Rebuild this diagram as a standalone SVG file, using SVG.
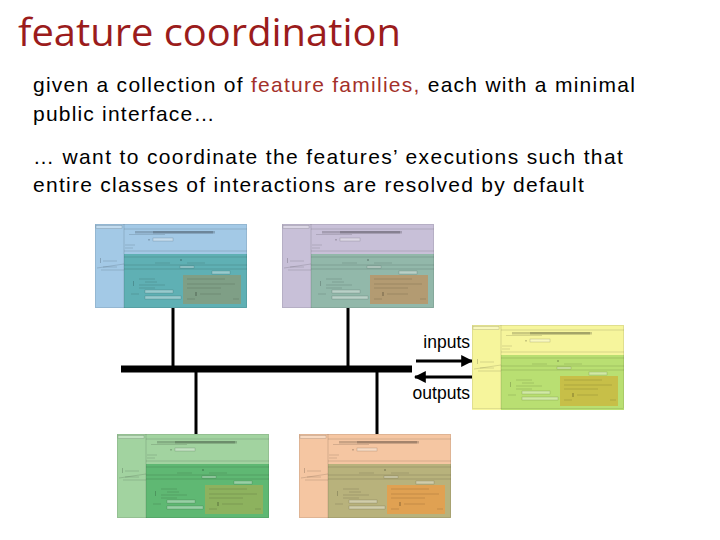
<svg xmlns="http://www.w3.org/2000/svg" xmlns:xlink="http://www.w3.org/1999/xlink" width="720" height="540" viewBox="0 0 720 540">
<style>
.title{font-family:"Open Sans","Noto Sans","Liberation Sans",sans-serif;font-size:38px;fill:#9b1c1c}
.body{font-family:"Liberation Sans",Arial,sans-serif;font-size:21px;letter-spacing:1.2px;fill:#000}
.hl{fill:#a3302a}
.lbl{font-family:"Liberation Sans",Arial,sans-serif;font-size:17.5px;fill:#000}
.wire{stroke:#000;stroke-width:3;fill:none}
.bus{stroke:#000;stroke-width:7;fill:none}
.arr{stroke:#000;stroke-width:3;fill:none}
.dl{stroke:#000;stroke-opacity:0.22;stroke-width:0.6;fill:none}
.db{fill:#000;fill-opacity:0.18}
.dw{fill:#fff;fill-opacity:0.35;stroke:#000;stroke-opacity:0.25;stroke-width:0.5}
</style>
<defs>
<marker id="ah" viewBox="0 0 10 10" refX="9" refY="5" markerWidth="4" markerHeight="4" orient="auto" markerUnits="strokeWidth">
<path d="M0,0 L10,5 L0,10 z" fill="#000"/>
</marker>
<g id="detail">
<rect x="0.5" y="0.5" width="151" height="83" fill="none" stroke="#000" stroke-opacity="0.15" stroke-width="0.6"/>
<rect x="1" y="1.5" width="26" height="3" class="dw"/>
<line x1="29" y1="5" x2="152" y2="5" class="dl"/>
<line x1="29" y1="0" x2="29" y2="84" class="dl"/>
<rect x="40" y="7" width="80" height="2.5" class="db"/>
<rect x="58" y="7" width="60" height="2.5" class="db"/>
<line x1="34" y1="10.5" x2="70" y2="10.5" class="dl"/>
<rect x="58" y="14" width="20" height="3" class="dw"/>
<rect x="53" y="15" width="2" height="1.5" class="db"/>
<line x1="30" y1="21" x2="40" y2="21" class="dl"/>
<line x1="30" y1="24" x2="38" y2="24" class="dl"/>
<line x1="29" y1="27" x2="152" y2="27" class="dl"/>
<line x1="29" y1="33" x2="152" y2="33" class="dl"/>
<rect x="85" y="35" width="2" height="2" class="db"/>
<line x1="60" y1="39" x2="75" y2="39" class="dl"/>
<line x1="92" y1="39" x2="110" y2="39" class="dl"/>
<line x1="29" y1="41" x2="152" y2="41" class="dl"/>
<line x1="29" y1="45" x2="152" y2="45" class="dl"/>
<rect x="85" y="42" width="14" height="2" class="dw"/>
<rect x="117" y="47" width="18" height="3" class="dw"/>
<rect x="5" y="34" width="1" height="5" class="db"/>
<line x1="8" y1="37" x2="22" y2="37" class="dl"/>
<line x1="8" y1="43" x2="22" y2="43" class="dl"/>
<line x1="2" y1="44" x2="29" y2="40" class="dl"/>
<line x1="6" y1="46" x2="29" y2="46" class="dl"/>
<rect x="38" y="57" width="1" height="5" class="db"/>
<line x1="44" y1="55" x2="60" y2="55" class="dl"/>
<line x1="50" y1="58" x2="62" y2="58" class="dl"/>
<line x1="44" y1="61" x2="70" y2="61" class="dl"/>
<line x1="44" y1="64" x2="60" y2="64" class="dl"/>
<rect x="50" y="66" width="28" height="3" class="dw"/>
<rect x="50" y="72" width="36" height="3" class="dw"/>
<line x1="36" y1="70" x2="44" y2="70" class="dl"/>
<line x1="92" y1="55" x2="130" y2="55" class="dl"/>
<line x1="92" y1="60" x2="140" y2="60" class="dl"/>
<line x1="92" y1="64" x2="126" y2="64" class="dl"/>
<rect x="100" y="68" width="2" height="4" class="db"/>
<line x1="105" y1="70" x2="126" y2="70" class="dl"/>
<line x1="92" y1="75" x2="100" y2="75" class="dl"/>
<line x1="138" y1="75" x2="144" y2="75" class="dl"/>
</g>
</defs>

<text class="title" x="18" y="46" textLength="383" lengthAdjust="spacingAndGlyphs">feature coordination</text>

<g id="text">
<text class="body" x="33" y="92" textLength="603" lengthAdjust="spacing">given a collection of <tspan class="hl">feature families,</tspan> each with a minimal</text>
<text class="body" x="33" y="121">public interface…</text>
<text class="body" x="33" y="164" textLength="591" lengthAdjust="spacing">… want to coordinate the features’ executions such that</text>
<text class="body" x="33" y="192" textLength="552" lengthAdjust="spacing">entire classes of interactions are resolved by default</text>
</g>

<g id="connectors">
<line class="wire" x1="173" y1="308" x2="173" y2="369"/>
<line class="wire" x1="348" y1="308" x2="348" y2="369"/>
<line class="wire" x1="196" y1="369" x2="196" y2="434"/>
<line class="wire" x1="377" y1="369" x2="377" y2="434"/>
<line class="bus" x1="121" y1="369" x2="412" y2="369"/>
<line class="arr" x1="416" y1="361" x2="472" y2="361" marker-end="url(#ah)"/>
<line class="arr" x1="473" y1="377" x2="415" y2="377" marker-end="url(#ah)"/>
</g>

<g id="lbl-inputs"><text class="lbl" x="470" y="348" text-anchor="end">inputs</text></g>
<g id="lbl-outputs"><text class="lbl" x="470" y="399" text-anchor="end">outputs</text></g>

<g id="feature-blue" transform="translate(95,224)">
<rect width="152" height="84" fill="#a3c9e6"/>
<rect x="29" y="30" width="123" height="54" fill="#5fb0b4"/>
<rect x="88" y="51" width="58" height="29" fill="#7f9f86"/>
<use href="#detail"/>
</g>
<g id="feature-purple" transform="translate(282,224)">
<rect width="152" height="84" fill="#c8c0d8"/>
<rect x="29" y="30" width="123" height="54" fill="#92b8aa"/>
<rect x="88" y="51" width="58" height="29" fill="#b39b72"/>
<use href="#detail"/>
</g>
<g id="feature-yellow" transform="translate(472,325)">
<rect width="152" height="85" fill="#f6f59c"/>
<rect x="29" y="30" width="123" height="55" fill="#b9df72"/>
<rect x="88" y="51" width="58" height="30" fill="#c7bf48"/>
<use href="#detail"/>
</g>
<g id="feature-green" transform="translate(117,434)">
<rect width="152" height="84" fill="#a2d3a0"/>
<rect x="29" y="30" width="123" height="54" fill="#5fb873"/>
<rect x="88" y="51" width="58" height="29" fill="#8db25e"/>
<use href="#detail"/>
</g>
<g id="feature-orange" transform="translate(299,434)">
<rect width="152" height="84" fill="#f5c6a2"/>
<rect x="29" y="30" width="123" height="54" fill="#b8b27c"/>
<rect x="88" y="51" width="58" height="29" fill="#e0a152"/>
<use href="#detail"/>
</g>
</svg>
